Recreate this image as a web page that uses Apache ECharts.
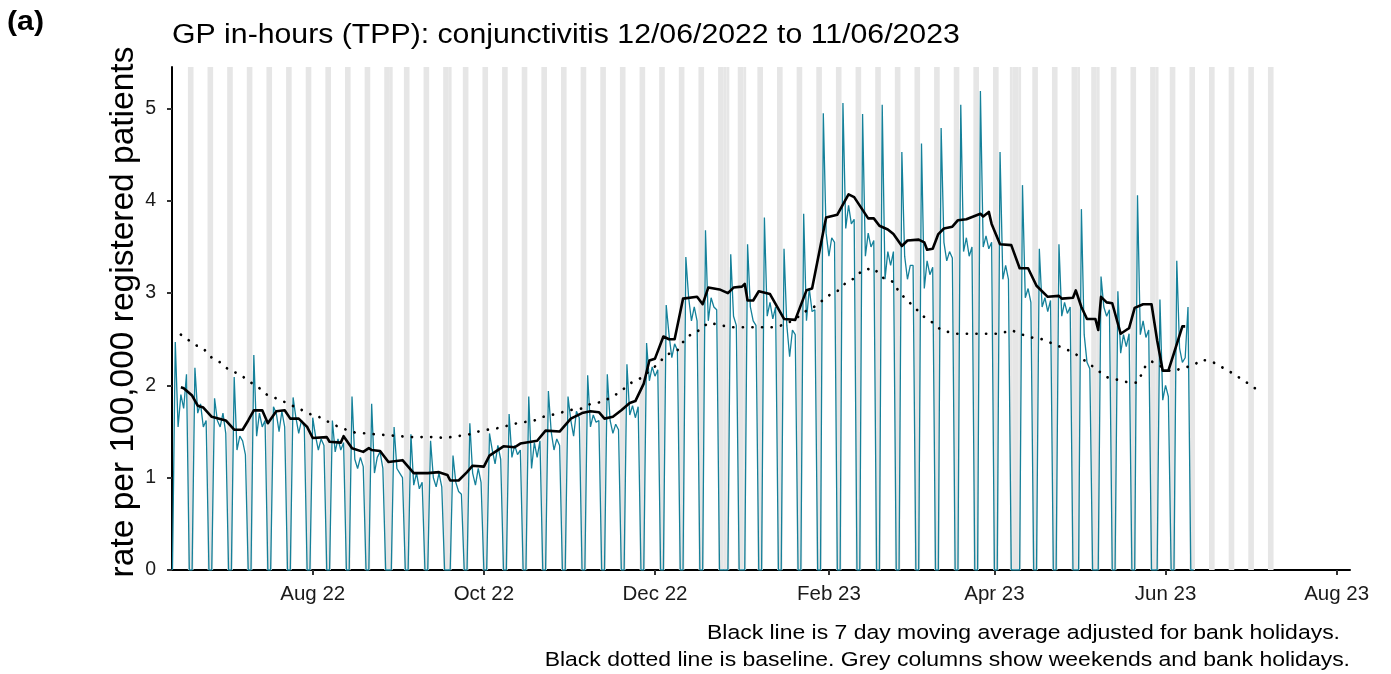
<!DOCTYPE html>
<html><head><meta charset="utf-8">
<script src="https://cdn.jsdelivr.net/npm/echarts@6/dist/echarts.min.js"></script>
<style>html,body{margin:0;padding:0;background:#fff}#c{width:1391px;height:674px}</style>
</head><body><div id="c"></div>
<script>
// ---------- data ----------
const startDate = '2022-06-12'; // first daily value (Sunday)

// daily rate per 100,000 (Mon..Sun rows after the first Sunday)
const dailyRate = [
0,
2.47,1.55,1.90,1.75,2.12,0,0,
2.19,1.70,1.80,1.55,1.62,0,0,
1.86,1.62,1.55,1.70,1.48,0,0,
2.09,1.30,1.45,1.40,1.25,0,0,
2.33,1.45,1.70,1.55,1.62,0,0,
1.77,1.70,1.50,1.72,1.55,0,0,
1.87,1.65,1.48,1.62,1.55,0,0,
1.65,1.45,1.30,1.42,1.35,0,0,
1.62,1.28,1.42,1.30,1.38,0,0,
1.88,1.20,1.10,1.22,1.12,0,0,
1.80,1.05,1.22,1.28,1.10,0,0,
0,1.55,1.10,1.05,1.00,0,0,
1.47,0.92,1.05,0.88,0.95,0,0,
1.40,1.00,0.90,1.05,0.90,0,0,
0,1.24,0.95,0.85,0.82,0,0,
1.59,1.05,0.92,1.10,0.95,0,0,
1.48,1.30,1.15,1.35,1.20,0,0,
1.69,1.22,1.35,1.25,1.30,0,0,
1.88,1.10,1.38,1.22,1.40,0,0,
1.94,1.50,1.30,1.42,1.35,0,0,
1.88,1.62,1.45,1.72,1.65,0,0,
2.11,1.55,1.68,1.60,1.62,0,0,
2.12,1.62,1.48,1.58,1.52,0,0,
2.23,1.68,1.78,1.65,1.77,0,0,
2.46,2.05,2.20,2.10,2.17,0,0,
2.87,2.55,2.30,2.45,2.38,0,0,
3.39,2.95,2.70,2.85,2.70,0,0,
3.68,2.70,2.95,2.85,2.82,0,0,
0,0,3.42,2.75,2.65,0,0,
0,3.53,2.85,2.70,2.65,0,0,
3.82,2.75,2.90,2.72,2.85,0,0,
3.48,2.65,2.31,2.60,2.55,0,0,
3.86,2.70,3.05,2.80,2.82,0,0,
4.95,3.65,3.40,3.60,3.55,0,0,
5.06,3.70,3.95,3.75,3.80,0,0,
4.94,3.40,3.65,3.50,3.57,0,0,
5.04,3.15,3.45,3.30,3.45,0,0,
4.53,3.40,3.15,3.30,3.30,0,0,
4.62,3.05,3.35,3.20,3.28,0,0,
4.79,3.55,3.35,3.45,3.38,0,0,
5.04,3.45,3.60,3.40,3.50,0,0,
5.19,3.50,3.62,3.48,3.55,0,0,
4.53,3.15,3.30,3.15,0,0,0,
0,4.17,2.95,3.05,2.90,0,0,
3.48,2.85,2.95,2.80,2.92,0,0,
3.53,2.75,2.90,2.78,2.85,0,0,
0,3.91,2.55,2.25,2.18,0,0,
0,3.18,2.85,2.75,2.82,0,0,
3.02,2.35,2.55,2.42,2.56,0,0,
4.06,2.55,2.70,2.52,2.60,0,0,
0,2.93,1.84,2.00,1.88,0,0,
3.35,2.40,2.25,2.30,2.85,0,0
];

// 7 day moving average (black line)
const movingAverage = [
['2022-06-15',1.98],['2022-06-16',1.97],['2022-06-19',1.89],['2022-06-21',1.78],['2022-06-23',1.76],
['2022-06-26',1.66],['2022-07-01',1.62],['2022-07-04',1.52],['2022-07-07',1.52],['2022-07-09',1.62],
['2022-07-11',1.73],['2022-07-14',1.73],['2022-07-16',1.59],['2022-07-19',1.72],['2022-07-22',1.73],
['2022-07-24',1.64],['2022-07-27',1.64],['2022-07-30',1.55],['2022-08-01',1.43],['2022-08-06',1.44],
['2022-08-07',1.39],['2022-08-11',1.38],['2022-08-12',1.45],['2022-08-15',1.32],['2022-08-19',1.28],
['2022-08-21',1.32],['2022-08-22',1.30],['2022-08-25',1.29],['2022-08-28',1.17],['2022-09-02',1.19],
['2022-09-06',1.05],['2022-09-11',1.05],['2022-09-15',1.06],['2022-09-18',1.03],['2022-09-19',0.97],
['2022-09-22',0.97],['2022-09-25',1.06],['2022-09-27',1.13],['2022-10-01',1.12],['2022-10-03',1.24],
['2022-10-08',1.34],['2022-10-12',1.33],['2022-10-14',1.37],['2022-10-20',1.40],['2022-10-23',1.51],
['2022-10-28',1.50],['2022-11-01',1.64],['2022-11-05',1.70],['2022-11-08',1.72],['2022-11-11',1.71],
['2022-11-13',1.64],['2022-11-16',1.66],['2022-11-19',1.73],['2022-11-22',1.81],['2022-11-24',1.83],
['2022-11-27',2.02],['2022-11-29',2.27],['2022-12-01',2.29],['2022-12-04',2.53],['2022-12-06',2.50],
['2022-12-08',2.50],['2022-12-11',2.94],['2022-12-16',2.96],['2022-12-18',2.88],['2022-12-20',3.06],
['2022-12-24',3.04],['2022-12-27',3.00],['2022-12-29',3.06],['2023-01-01',3.07],['2023-01-02',3.10],
['2023-01-03',2.92],['2023-01-05',2.92],['2023-01-07',3.02],['2023-01-11',2.99],['2023-01-16',2.72],
['2023-01-20',2.71],['2023-01-24',3.03],['2023-01-26',3.05],['2023-01-31',3.82],['2023-02-04',3.85],
['2023-02-08',4.07],['2023-02-10',4.04],['2023-02-15',3.81],['2023-02-17',3.81],['2023-02-19',3.73],
['2023-02-22',3.69],['2023-02-24',3.64],['2023-02-27',3.51],['2023-03-01',3.57],['2023-03-05',3.58],
['2023-03-07',3.55],['2023-03-08',3.47],['2023-03-10',3.48],['2023-03-12',3.64],['2023-03-14',3.70],
['2023-03-17',3.72],['2023-03-19',3.79],['2023-03-22',3.80],['2023-03-27',3.86],['2023-03-28',3.83],
['2023-03-30',3.88],['2023-03-31',3.75],['2023-04-03',3.53],['2023-04-07',3.52],['2023-04-10',3.27],
['2023-04-13',3.27],['2023-04-16',3.08],['2023-04-20',2.96],['2023-04-24',2.97],['2023-04-25',2.94],
['2023-04-29',2.95],['2023-04-30',3.03],['2023-05-02',2.85],['2023-05-04',2.72],['2023-05-07',2.72],
['2023-05-08',2.60],['2023-05-09',2.96],['2023-05-11',2.90],['2023-05-13',2.89],['2023-05-16',2.56],
['2023-05-18',2.60],['2023-05-19',2.62],['2023-05-21',2.84],['2023-05-24',2.88],['2023-05-27',2.88],
['2023-05-29',2.49],['2023-05-31',2.16],['2023-06-02',2.16],['2023-06-04',2.35],['2023-06-07',2.64],
['2023-06-08',2.64]
];

// baseline (black dotted line)
const baseline = [
['2022-06-15',2.55],['2022-06-16',2.53],['2022-06-20',2.44],['2022-06-23',2.40],['2022-06-26',2.30],
['2022-06-29',2.25],['2022-07-02',2.17],['2022-07-06',2.12],['2022-07-10',2.03],['2022-07-13',1.97],
['2022-07-16',1.89],['2022-07-20',1.85],['2022-07-24',1.79],['2022-07-27',1.75],['2022-07-31',1.69],
['2022-08-04',1.65],['2022-08-08',1.58],['2022-08-12',1.53],['2022-08-16',1.49],['2022-08-20',1.48],
['2022-08-28',1.46],['2022-09-05',1.44],['2022-09-13',1.44],['2022-09-17',1.43],['2022-09-26',1.47],
['2022-09-29',1.50],['2022-10-04',1.53],['2022-10-07',1.54],['2022-10-11',1.58],['2022-10-15',1.60],
['2022-10-19',1.62],['2022-10-23',1.67],['2022-10-27',1.69],['2022-10-31',1.73],['2022-11-05',1.75],
['2022-11-08',1.80],['2022-11-12',1.82],['2022-11-16',1.88],['2022-11-19',1.94],['2022-11-22',2.02],
['2022-11-26',2.08],['2022-12-02',2.23],['2022-12-05',2.33],['2022-12-09',2.38],['2022-12-11',2.47],
['2022-12-14',2.56],['2022-12-17',2.60],['2022-12-20',2.68],['2022-12-28',2.63],['2023-01-13',2.63],
['2023-01-17',2.67],['2023-01-20',2.72],['2023-01-24',2.81],['2023-01-28',2.87],['2023-01-31',2.96],
['2023-02-04',3.02],['2023-02-07',3.11],['2023-02-10',3.16],['2023-02-13',3.25],['2023-02-17',3.27],
['2023-02-20',3.17],['2023-02-24',3.12],['2023-02-26',3.01],['2023-03-04',2.83],['2023-03-07',2.74],
['2023-03-10',2.68],['2023-03-13',2.60],['2023-03-18',2.56],['2023-03-27',2.56],['2023-04-03',2.56],
['2023-04-07',2.60],['2023-04-10',2.56],['2023-04-14',2.52],['2023-04-18',2.50],['2023-04-22',2.45],
['2023-04-29',2.36],['2023-05-05',2.23],['2023-05-11',2.09],['2023-05-19',2.03],['2023-05-22',2.03],
['2023-05-25',2.22],['2023-05-27',2.26],['2023-06-03',2.15],['2023-06-11',2.22],['2023-06-14',2.28],
['2023-06-18',2.25],['2023-06-25',2.13],['2023-07-02',1.99],['2023-07-05',1.92]
];

// grey columns: weekends (Saturday dates; Sat+Sun) and bank holidays
const weekendSaturdays = [
'2022-06-18','2022-06-25','2022-07-02','2022-07-09','2022-07-16','2022-07-23','2022-07-30',
'2022-08-06','2022-08-13','2022-08-20','2022-08-27','2022-09-03','2022-09-10','2022-09-17','2022-09-24',
'2022-10-01','2022-10-08','2022-10-15','2022-10-22','2022-10-29','2022-11-05','2022-11-12','2022-11-19','2022-11-26',
'2022-12-03','2022-12-10','2022-12-17','2022-12-24','2022-12-31','2023-01-07','2023-01-14','2023-01-21','2023-01-28',
'2023-02-04','2023-02-11','2023-02-18','2023-02-25','2023-03-04','2023-03-11','2023-03-18','2023-03-25',
'2023-04-01','2023-04-08','2023-04-15','2023-04-22','2023-04-29','2023-05-06','2023-05-13','2023-05-20','2023-05-27',
'2023-06-03','2023-06-10','2023-06-17','2023-06-24','2023-07-01','2023-07-08'
];
const bankHolidays = ['2022-08-29','2022-09-19','2022-12-26','2022-12-27','2023-01-02','2023-04-07','2023-04-10','2023-05-01','2023-05-08','2023-05-29'];

// x axis ticks
const tickDates = ['2022-08-01','2022-10-01','2022-12-01','2023-02-01','2023-04-01','2023-06-01','2023-08-01'];
const tickLabels = ['Aug 22','Oct 22','Dec 22','Feb 23','Apr 23','Jun 23','Aug 23'];
const yTicks = [0,1,2,3,4,5];

const titleText = 'GP in-hours (TPP): conjunctivitis 12/06/2022 to 11/06/2023';
const yTitle = 'rate per 100,000 registered patients';
const note1 = 'Black line is 7 day moving average adjusted for bank holidays.';
const note2 = 'Black dotted line is baseline. Grey columns show weekends and bank holidays.';

// ---------- build ----------
const DAY = 86400000, HOUR = 3600000;
const toTs = s => { const p = s.split('-').map(Number); return Date.UTC(p[0], p[1]-1, p[2]); };
const t0 = toTs(startDate);
const tealData = dailyRate.map((v, i) => [t0 + i * DAY, v]);
const maData = movingAverage.map(d => [toTs(d[0]), d[1]]);
const baseData = baseline.map(d => [toTs(d[0]), d[1]]);
const areas = [];
weekendSaturdays.forEach(s => { const t = toTs(s); areas.push([{xAxis: t - DAY/2}, {xAxis: t + 1.5*DAY}]); });
bankHolidays.forEach(s => { const t = toTs(s); areas.push([{xAxis: t - DAY/2}, {xAxis: t + DAY/2}]); });
const tickTs = tickDates.map(toTs);
const labelMap = {}; tickTs.forEach((t, i) => labelMap[t] = tickLabels[i]);

const FONT = '"Liberation Sans", Arial, sans-serif';
const chart = echarts.init(document.getElementById('c'), null, {renderer: 'canvas'});
chart.setOption({
  animation: false,
  backgroundColor: '#fff',
  grid: {left: 172, right: 41, top: 67, bottom: 104, containLabel: false},
  xAxis: {
    type: 'value',
    min: toTs('2022-06-11') + 20*HOUR,
    max: toTs('2023-08-05') + 18*HOUR,
    axisLine: {show: true, lineStyle: {color: '#000', width: 2}},
    axisTick: {show: true, customValues: tickTs, length: 5, lineStyle: {color: '#333', width: 2}},
    axisLabel: {customValues: tickTs, formatter: v => labelMap[v] || '', fontSize: 20.5, color: '#1a1a1a', margin: 14, fontFamily: FONT},
    splitLine: {show: false}
  },
  yAxis: {
    type: 'value', min: 0, max: 5.45,
    axisLine: {show: true, lineStyle: {color: '#000', width: 2}},
    axisTick: {show: true, customValues: yTicks, length: 5, lineStyle: {color: '#333', width: 2}},
    axisLabel: {customValues: yTicks, fontSize: 19.5, color: '#1a1a1a', margin: 16, fontFamily: FONT},
    splitLine: {show: false}
  },
  series: [
    {type: 'line', name: 'cols', data: baseData, showSymbol: false, silent: true, z: 1,
     lineStyle: {opacity: 0, width: 0},
     markArea: {silent: true, itemStyle: {color: '#e6e6e6', borderWidth: 0}, data: areas}},
    {type: 'line', name: 'daily', data: tealData, showSymbol: false, z: 3, silent: true,
     lineStyle: {color: '#15819a', width: 1.3}},
    {type: 'line', name: 'baseline', data: baseData, showSymbol: false, z: 4, silent: true,
     lineStyle: {color: '#000', width: 2.7, type: [0.1, 9.5], cap: 'round'}},
    {type: 'line', name: 'ma', data: maData, showSymbol: false, z: 5, silent: true,
     lineStyle: {color: '#000', width: 2.6, join: 'round'}}
  ],
  graphic: [
    {type: 'text', x: 7, y: 22, scaleX: 1.08, style: {text: '(a)', fontSize: 28, fontWeight: 'bold', fontFamily: FONT, fill: '#000', verticalAlign: 'middle'}},
    {type: 'text', x: 172, y: 36, scaleX: 1.12, style: {text: titleText, fontSize: 27, fontFamily: FONT, fill: '#000', verticalAlign: 'middle'}},
    {type: 'text', x: 123.5, y: 312, rotation: Math.PI/2, style: {text: yTitle, fontSize: 33.5, fontFamily: FONT, fill: '#000', align: 'center', verticalAlign: 'middle'}},
    {type: 'text', x: 1340, y: 633, scaleX: 1.12, style: {text: note1, fontSize: 20.5, fontFamily: FONT, fill: '#000', align: 'right', verticalAlign: 'middle'}},
    {type: 'text', x: 1350, y: 660, scaleX: 1.12, style: {text: note2, fontSize: 20.5, fontFamily: FONT, fill: '#000', align: 'right', verticalAlign: 'middle'}}
  ]
});
</script></body></html>
